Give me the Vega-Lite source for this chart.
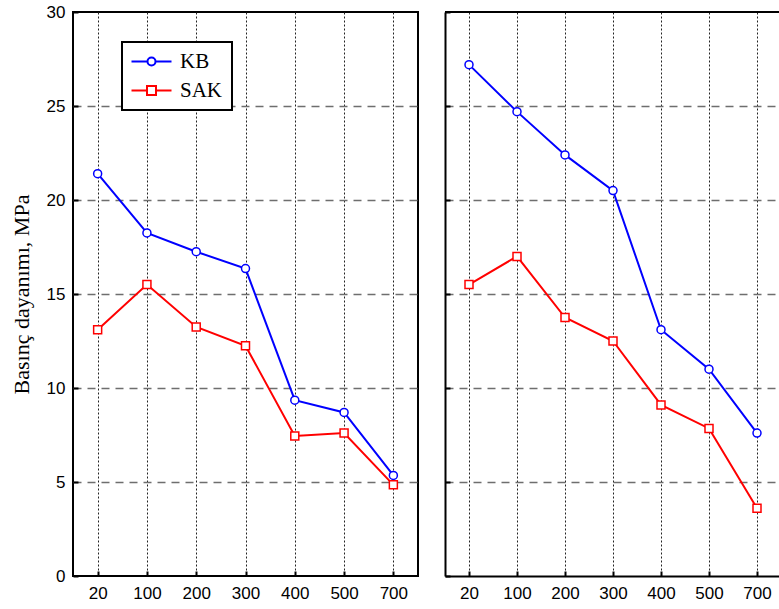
{
  "$schema": "https://vega.github.io/schema/vega-lite/v6.json",
  "autosize": {"type": "pad"},
  "padding": {"left": 9, "top": 2, "right": 0, "bottom": 0},
  "background": "white",
  "spacing": 25,
  "config": {
    "axis": {
      "labelFont": "Liberation Sans",
      "labelFontSize": 17,
      "labelColor": "black",
      "titleFont": "Liberation Serif",
      "titleFontSize": 22,
      "titleFontWeight": "normal",
      "titleColor": "black",
      "tickColor": "black",
      "tickWidth": 2,
      "tickSize": -5
    },
    "view": {"stroke": null}
  },
  "datasets": {
    "d": [
      {"panel": "a", "T": "20", "seri": "KB", "v": 21.4},
      {"panel": "a", "T": "100", "seri": "KB", "v": 18.25},
      {"panel": "a", "T": "200", "seri": "KB", "v": 17.25},
      {"panel": "a", "T": "300", "seri": "KB", "v": 16.35},
      {"panel": "a", "T": "400", "seri": "KB", "v": 9.35},
      {"panel": "a", "T": "500", "seri": "KB", "v": 8.7},
      {"panel": "a", "T": "700", "seri": "KB", "v": 5.35},
      {"panel": "a", "T": "20", "seri": "SAK", "v": 13.1},
      {"panel": "a", "T": "100", "seri": "SAK", "v": 15.5},
      {"panel": "a", "T": "200", "seri": "SAK", "v": 13.25},
      {"panel": "a", "T": "300", "seri": "SAK", "v": 12.25},
      {"panel": "a", "T": "400", "seri": "SAK", "v": 7.45},
      {"panel": "a", "T": "500", "seri": "SAK", "v": 7.6},
      {"panel": "a", "T": "700", "seri": "SAK", "v": 4.85},
      {"panel": "b", "T": "20", "seri": "KB", "v": 27.2},
      {"panel": "b", "T": "100", "seri": "KB", "v": 24.7},
      {"panel": "b", "T": "200", "seri": "KB", "v": 22.4},
      {"panel": "b", "T": "300", "seri": "KB", "v": 20.5},
      {"panel": "b", "T": "400", "seri": "KB", "v": 13.1},
      {"panel": "b", "T": "500", "seri": "KB", "v": 11.0},
      {"panel": "b", "T": "700", "seri": "KB", "v": 7.6},
      {"panel": "b", "T": "20", "seri": "SAK", "v": 15.5},
      {"panel": "b", "T": "100", "seri": "SAK", "v": 17.0},
      {"panel": "b", "T": "200", "seri": "SAK", "v": 13.75},
      {"panel": "b", "T": "300", "seri": "SAK", "v": 12.5},
      {"panel": "b", "T": "400", "seri": "SAK", "v": 9.1},
      {"panel": "b", "T": "500", "seri": "SAK", "v": 7.85},
      {"panel": "b", "T": "700", "seri": "SAK", "v": 3.6}
    ]
  },
  "resolve": {"legend": {"color": "independent"}},
  "hconcat": [
    {
      "width": 345,
      "height": 564,
      "view": {"stroke": "black", "strokeWidth": 2},
      "data": {"name": "d"},
      "transform": [{"filter": "datum.panel === 'a'"}],
      "encoding": {
        "x": {
          "field": "T", "type": "ordinal",
          "sort": ["20", "100", "200", "300", "400", "500", "700"],
          "scale": {"type": "point", "padding": 0.5},
          "axis": {"title": null, "labelAngle": 0, "domain": false, "labelPadding": 14,
                   "grid": true, "gridColor": "#222222", "gridDash": [2, 2], "gridWidth": 1}
        },
        "y": {
          "field": "v", "type": "quantitative",
          "scale": {"domain": [0, 30], "nice": false},
          "axis": {"title": "Basınç dayanımı, MPa", "values": [0, 5, 10, 15, 20, 25, 30],
                   "domain": false, "labelPadding": 13, "titlePadding": 13,
                   "grid": true, "gridColor": "#6e6e6e", "gridDash": [8, 6], "gridWidth": 1.5,
                   "gridOpacity": {"condition": {"test": "datum.value === 0 || datum.value === 30", "value": 0}, "value": 1}}
        },
        "color": {
          "field": "seri", "type": "nominal",
          "scale": {"domain": ["KB", "SAK"], "range": ["#0000ff", "#ff0000"]},
          "legend": {
            "orient": "none", "legendX": 49, "legendY": 30,
            "title": null, "padding": 9,
            "strokeColor": "black", "fillColor": "white",
            "labelFont": "Liberation Serif", "labelFontSize": 21, "labelColor": "black",
            "symbolSize": 100, "symbolStrokeWidth": 2, "symbolOffset": 10, "labelOffset": 18,
            "rowPadding": 7,
            "encode": {
              "legend": {"update": {"strokeWidth": {"value": 2}}},
              "symbols": {"update": {
                "shape": {"signal": "datum.value === 'KB' ? 'M-4,0H-0.8M0.8,0H4M-0.8,0A0.8,0.8,0,1,0,0.8,0A0.8,0.8,0,1,0,-0.8,0Z' : 'M-4,0H-0.9M0.9,0H4M-0.9,-0.9H0.9V0.9H-0.9Z'"},
                "fill": {"value": "white"},
                "opacity": {"value": 1}
              }}
            }
          }
        }
      },
      "layer": [
        {"mark": {"type": "line", "strokeWidth": 2}},
        {
          "mark": {"type": "point", "filled": false, "strokeWidth": 1.5, "size": 64, "opacity": 1},
          "encoding": {
            "fill": {"value": "white"},
            "shape": {"field": "seri", "type": "nominal", "scale": {"domain": ["KB", "SAK"], "range": ["circle", "square"]}, "legend": null}
          }
        }
      ]
    },
    {
      "width": 336,
      "height": 564,
      "data": {"name": "d"},
      "transform": [{"filter": "datum.panel === 'b'"}],
      "encoding": {
        "y": {
          "field": "v", "type": "quantitative",
          "scale": {"domain": [0, 30], "nice": false},
          "axis": {"title": null, "labels": false, "values": [0, 5, 10, 15, 20, 25, 30],
                   "domain": true, "domainColor": "black", "domainWidth": 2,
                   "grid": true, "gridColor": "#6e6e6e", "gridDash": [8, 6], "gridWidth": 1.5,
                   "gridOpacity": {"condition": {"test": "datum.value === 0 || datum.value === 30", "value": 0}, "value": 1}}
        }
      },
      "layer": [
        {
          "mark": {"type": "line", "strokeWidth": 2},
          "encoding": {
            "x": {
              "field": "T", "type": "ordinal",
              "sort": ["20", "100", "200", "300", "400", "500", "700"],
              "scale": {"type": "point", "padding": 0.5},
              "axis": {"title": null, "labelAngle": 0, "domain": true, "domainColor": "black", "domainWidth": 2,
                       "labelPadding": 14,
                       "grid": true, "gridColor": "#222222", "gridDash": [2, 2], "gridWidth": 1}
            },
            "color": {
              "field": "seri", "type": "nominal",
              "scale": {"domain": ["KB", "SAK"], "range": ["#0000ff", "#ff0000"]},
              "legend": null
            }
          }
        },
        {
          "mark": {"type": "point", "filled": false, "strokeWidth": 1.5, "size": 64, "opacity": 1},
          "encoding": {
            "x": {
              "field": "T", "type": "ordinal",
              "sort": ["20", "100", "200", "300", "400", "500", "700"]
            },
            "color": {
              "field": "seri", "type": "nominal",
              "scale": {"domain": ["KB", "SAK"], "range": ["#0000ff", "#ff0000"]},
              "legend": null
            },
            "fill": {"value": "white"},
            "shape": {"field": "seri", "type": "nominal", "scale": {"domain": ["KB", "SAK"], "range": ["circle", "square"]}, "legend": null}
          }
        },
        {
          "mark": {"type": "rule", "strokeWidth": 2, "color": "black"},
          "encoding": {"y": {"datum": 30}}
        }
      ]
    }
  ]
}
